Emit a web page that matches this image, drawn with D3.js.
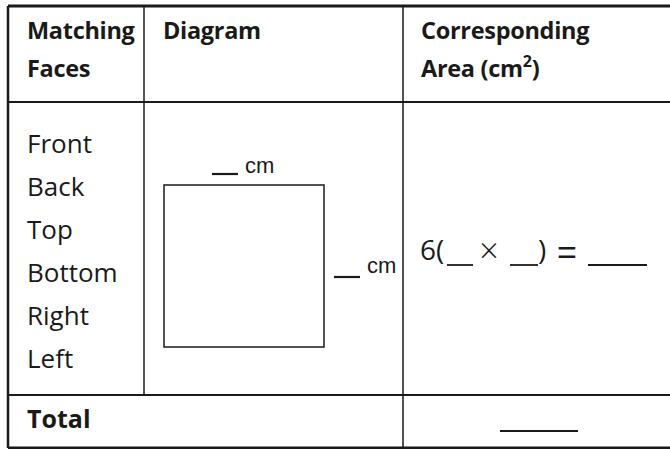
<!DOCTYPE html>
<html>
<head>
<meta charset="utf-8">
<script src="https://cdn.jsdelivr.net/npm/d3@7/dist/d3.min.js"></script>
<style>
html,body{margin:0;padding:0;background:#fff;}
svg{display:block;}
</style>
</head>
<body>
<svg id="c" width="670" height="449"></svg>
<script>
// ---- data ----
const headerCol1 = ["Matching", "Faces"];
const headerCol2 = ["Diagram"];
const headerCol3 = ["Corresponding", "Area (cm"];
const faces = ["Front", "Back", "Top", "Bottom", "Right", "Left"];
const totalLabel = "Total";
const unitLabel = "cm";
const multiplier = "6(";

const svg = d3.select("#c");
const font = "'Open Sans', 'Noto Sans', sans-serif";
const sansFont = "'Liberation Sans', Arial, sans-serif";
const ink = "#1a1a1a";

// table geometry
const colX = [8, 144, 403, 672];
const rowY = [6, 102, 395, 448];

const g = svg.append("g");

// horizontal lines
g.selectAll("line.h").data(rowY).join("line")
  .attr("x1", colX[0]).attr("x2", colX[3])
  .attr("y1", d => d).attr("y2", d => d)
  .attr("stroke", ink).attr("stroke-width", (d, i) => (i === 0 || i === 3) ? 3 : 2.2);
// left border
g.append("line").attr("x1", colX[0]).attr("x2", colX[0]).attr("y1", rowY[0]).attr("y2", rowY[3])
  .attr("stroke", ink).attr("stroke-width", 2.5);
// column divider 1 (stops at total row)
g.append("line").attr("x1", colX[1]).attr("x2", colX[1]).attr("y1", rowY[0]).attr("y2", rowY[2])
  .attr("stroke", ink).attr("stroke-width", 1.5);
// column divider 2
g.append("line").attr("x1", colX[2]).attr("x2", colX[2]).attr("y1", rowY[0]).attr("y2", rowY[3])
  .attr("stroke", ink).attr("stroke-width", 1.5);

// header text
const hdrSize = 23.5;
function headerLines(lines, x) {
  g.selectAll(null).data(lines).join("text")
    .attr("x", x).attr("y", (d, i) => 39 + i * 38)
    .attr("font-family", font).attr("font-weight", 700).attr("font-size", hdrSize)
    .attr("letter-spacing", -0.3)
    .attr("fill", ink).text(d => d);
}
headerLines(headerCol1, 27);
headerLines(headerCol2, 163);
headerLines([headerCol3[0]], 421);
const area = g.append("text").attr("x", 421).attr("y", 77)
  .attr("font-family", font).attr("font-weight", 700).attr("font-size", hdrSize)
  .attr("letter-spacing", -0.3).attr("fill", ink);
area.append("tspan").text(headerCol3[1]);
area.append("tspan").attr("font-size", 16).attr("dy", -10).text("2");
area.append("tspan").attr("dy", 10).text(")");

// face labels
const yFace = d3.scalePoint().domain(faces).range([153, 368]);
g.selectAll("text.face").data(faces).join("text")
  .attr("class", "face")
  .attr("x", 27).attr("y", d => yFace(d))
  .attr("font-family", font).attr("font-size", 26).attr("fill", ink)
  .text(d => d);

// diagram square
g.append("rect").attr("x", 164).attr("y", 185).attr("width", 160).attr("height", 162)
  .attr("fill", "none").attr("stroke", ink).attr("stroke-width", 1.5);
// top dimension
g.append("line").attr("x1", 212).attr("x2", 238).attr("y1", 174).attr("y2", 174)
  .attr("stroke", ink).attr("stroke-width", 2.2);
g.append("text").attr("x", 245).attr("y", 173)
  .attr("font-family", sansFont).attr("font-size", 22).attr("fill", ink)
  .text(unitLabel);
// right dimension
g.append("line").attr("x1", 334).attr("x2", 360).attr("y1", 277).attr("y2", 277)
  .attr("stroke", ink).attr("stroke-width", 2.2);
g.append("text").attr("x", 367).attr("y", 273)
  .attr("font-family", sansFont).attr("font-size", 22).attr("fill", ink)
  .text(unitLabel);

// equation
g.append("text").attr("x", 420).attr("y", 260)
  .attr("font-family", font).attr("font-size", 28).attr("fill", ink).text(multiplier);
const blanks = [[447, 473], [510, 538], [588, 647]];
g.selectAll("line.blank").data(blanks).join("line")
  .attr("x1", d => d[0]).attr("x2", d => d[1]).attr("y1", 265).attr("y2", 265)
  .attr("stroke", ink).attr("stroke-width", 1.8);
g.append("text").attr("x", 489).attr("y", 263).attr("text-anchor", "middle")
  .attr("font-family", font).attr("font-size", 34).attr("font-weight", 300).attr("fill", ink).text("×");
g.append("text").attr("x", 538).attr("y", 260)
  .attr("font-family", font).attr("font-size", 28).attr("fill", ink).text(")");
g.append("text").attr("x", 567).attr("y", 264).attr("text-anchor", "middle")
  .attr("font-family", sansFont).attr("font-size", 34).attr("fill", ink).text("=");

// total row
g.append("text").attr("x", 27).attr("y", 428)
  .attr("font-family", font).attr("font-weight", 700).attr("font-size", 25).attr("fill", ink)
  .text(totalLabel);
g.append("line").attr("x1", 500).attr("x2", 578).attr("y1", 431).attr("y2", 431)
  .attr("stroke", ink).attr("stroke-width", 2);
</script>
</body>
</html>
